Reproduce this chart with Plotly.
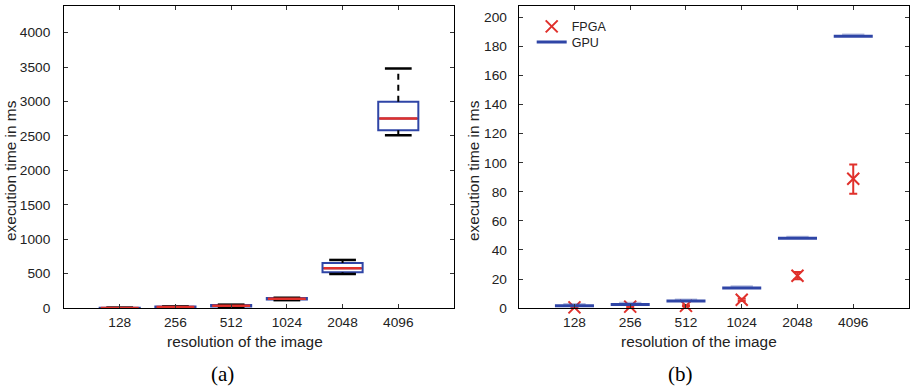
import plotly.graph_objects as go

# ---------------- data ----------------
categories = ["128", "256", "512", "1024", "2048", "4096"]

# panel (a): box statistics (ms)
box_lower = [0, 5, 18, 115, 495, 2510]
box_q1 = [1, 8, 22, 125, 520, 2582]
box_median = [3, 15, 33, 135, 577, 2752]
box_q3 = [5, 22, 45, 145, 655, 2994]
box_upper = [6, 24, 50, 150, 699, 3480]

# panel (b)
gpu_ms = [1.6, 2.5, 4.8, 13.8, 48, 187]
fpga_ms = [0.5, 1.0, 1.5, 5.7, 22.3, 89]
fpga_err_plus = [0.5, 0.5, 0.5, 0.8, 2.5, 9.8]
fpga_err_minus = [0.3, 0.3, 0.3, 0.8, 2.5, 10.4]

BLUE = "#2f45a6"
RED = "#e0302b"
FONT = "Liberation Sans, Arial, sans-serif"
W, H = 910, 398
REF_H = 389.0


def py(y):
    """target pixel row (in the 389-high picture) -> paper fraction"""
    return 1 - y / REF_H


pos = list(range(1, len(categories) + 1))
half = 0.36
cap = 0.24


def seg(xc, y0, y1, hw):
    xs, ys = [], []
    for x, a, b in zip(xc, y0, y1):
        xs += [x - hw, x + hw, None]
        ys += [a, b, None]
    return xs, ys


def vseg(xc, y0, y1):
    xs, ys = [], []
    for x, a, b in zip(xc, y0, y1):
        xs += [x, x, None]
        ys += [a, b, None]
    return xs, ys


fig = go.Figure()

wx, wy = vseg(pos, box_q3, box_upper)
fig.add_trace(go.Scatter(x=wx, y=wy, mode="lines", line=dict(color="black", width=2, dash="6px,5px"),
                         showlegend=False, xaxis="x", yaxis="y", hoverinfo="skip"))
wx, wy = vseg(pos, box_lower, box_q1)
fig.add_trace(go.Scatter(x=wx, y=wy, mode="lines", line=dict(color="black", width=2, dash="6px,5px"),
                         showlegend=False, xaxis="x", yaxis="y", hoverinfo="skip"))
cx, cy = seg(pos, box_upper, box_upper, cap)
fig.add_trace(go.Scatter(x=cx, y=cy, mode="lines", line=dict(color="black", width=2.5),
                         showlegend=False, xaxis="x", yaxis="y", hoverinfo="skip"))
cx, cy = seg(pos, box_lower, box_lower, cap)
fig.add_trace(go.Scatter(x=cx, y=cy, mode="lines", line=dict(color="black", width=2.5),
                         showlegend=False, xaxis="x", yaxis="y", hoverinfo="skip"))
fig.add_trace(go.Box(x=pos, q1=box_q1, median=box_median, q3=box_q3,
                     lowerfence=box_q1, upperfence=box_q3,
                     width=2 * half, line=dict(color=BLUE, width=2), fillcolor="white",
                     whiskerwidth=0, showlegend=False, xaxis="x", yaxis="y"))
mx, my = seg(pos, box_median, box_median, half - 0.02)
fig.add_trace(go.Scatter(x=mx, y=my, mode="lines", line=dict(color=RED, width=2.5),
                         showlegend=False, xaxis="x", yaxis="y", hoverinfo="skip"))

fig.add_trace(go.Scatter(x=pos, y=fpga_ms, mode="markers", name="FPGA", legend="legend",
                         marker=dict(symbol="x-thin", size=12, line=dict(color=RED, width=2), color=RED),
                         error_y=dict(type="data", array=fpga_err_plus, arrayminus=fpga_err_minus,
                                      color=RED, thickness=2, width=4),
                         cliponaxis=False, xaxis="x2", yaxis="y2"))
gx, gy = seg(pos, gpu_ms, gpu_ms, 0.35)
fig.add_trace(go.Scatter(x=gx, y=gy, mode="lines", name="GPU", legend="legend2",
                         line=dict(color=BLUE, width=3), xaxis="x2", yaxis="y2"))
lx, ly = seg(pos, [g + 0.8 for g in gpu_ms], [g + 0.8 for g in gpu_ms], 0.2)
fig.add_trace(go.Scatter(x=lx, y=ly, mode="lines", line=dict(color="rgba(47,69,166,0.35)", width=3),
                         showlegend=False, xaxis="x2", yaxis="y2", hoverinfo="skip"))

axis_common = dict(showline=True, linecolor="black", linewidth=1, mirror="ticks",
                   ticks="inside", ticklen=4, tickcolor="#333", tickwidth=1,
                   showgrid=False, zeroline=False,
                   tickfont=dict(family=FONT, size=13.7, color="#222"))

y_bottom = py(307.3)
y_top = py(5.7)

legend_common = dict(xanchor="left", yanchor="middle", bgcolor="rgba(0,0,0,0)",
                     font=dict(family=FONT, size=12.5, color="#222"), itemwidth=30,
                     borderwidth=0)

fig.update_layout(
    width=W, height=H, autosize=False, margin=dict(l=0, r=0, t=0, b=0, pad=0),
    paper_bgcolor="white", plot_bgcolor="white",
    font=dict(family=FONT, size=14, color="#222"),
    xaxis=dict(domain=[64 / W, 454 / W], range=[0, 7], tickvals=pos, ticktext=categories,
               anchor="y", ticklabelstandoff=1, **axis_common),
    yaxis=dict(domain=[y_bottom, y_top], range=[0, 4390], dtick=500, anchor="x",
               ticklabelstandoff=10, **axis_common),
    xaxis2=dict(domain=[518.7 / W, 909 / W], range=[0, 7], tickvals=pos, ticktext=categories,
                anchor="y2", ticklabelstandoff=1, **axis_common),
    yaxis2=dict(domain=[y_bottom, y_top], range=[0, 208], dtick=20, anchor="x2",
                ticklabelstandoff=8, **axis_common),
    legend=dict(x=531.7 / W, y=py(26.7), **legend_common),
    legend2=dict(x=531.7 / W, y=py(42.3), **legend_common),
    showlegend=True,
)

ann = [
    dict(text="execution time in ms", x=10.5 / W, y=py(170), textangle=-90),
    dict(text="execution time in ms", x=473.5 / W, y=py(170), textangle=-90),
    dict(text="resolution of the image", x=245 / W, y=py(341)),
    dict(text="resolution of the image", x=699 / W, y=py(341)),
]
for a in ann:
    fig.add_annotation(xref="paper", yref="paper", showarrow=False, xanchor="center", yanchor="middle",
                       font=dict(family=FONT, size=15.4, color="#222"), **a)
for t, xc in [("(a)", 222), ("(b)", 680)]:
    fig.add_annotation(text=t, xref="paper", yref="paper", x=xc / W, y=py(373), showarrow=False,
                       xanchor="center", yanchor="middle",
                       font=dict(family="Liberation Serif, Times New Roman, serif", size=21, color="black"))

fig.write_html("out.html", config={"responsive": False})
